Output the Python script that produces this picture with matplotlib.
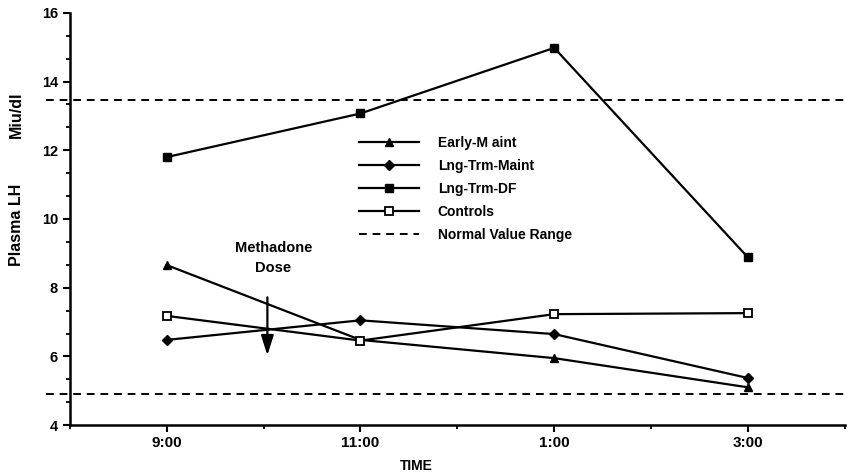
import matplotlib.pyplot as plt
import numpy as np
from matplotlib.ticker import MultipleLocator

# Plasma LH by time of day for each group
times = ["9:00", "11:00", "1:00", "3:00"]
early_maint = [8.66, 6.48, 5.95, 5.1]
lng_trm_maint = [6.48, 7.05, 6.65, 5.37]
lng_trm_df = [11.8, 13.07, 14.98, 8.88]
controls = [7.18, 6.46, 7.23, 7.26]
normal_range = [13.45, 4.92]
dose_time = 0.52

plt.rcParams['font.family'] = ['Liberation Sans', 'DejaVu Sans']

fig = plt.figure(figsize=(8.5, 4.75), dpi=100)
ax = fig.add_axes([0.082, 0.105, 0.912, 0.868])
x = np.arange(len(times))

ax.plot(x, early_maint, color="black", lw=1.6, marker="^", ms=6, label="Early-M aint")
ax.plot(x, lng_trm_maint, color="black", lw=1.6, marker="D", ms=5, label="Lng-Trm-Maint")
ax.plot(x, lng_trm_df, color="black", lw=1.6, marker="s", ms=6, label="Lng-Trm-DF")
ax.plot(x, controls, color="black", lw=1.6, marker="s", ms=6, mfc="white", mew=1.3, label="Controls")
for i, yv in enumerate(normal_range):
    ax.plot([-0.62, 3.5], [yv, yv], color="black", lw=1.4, ls=(0, (4, 3)),
            clip_on=False, label="Normal Value Range" if i == 0 else None)

# dose marker
ax.annotate("", xy=(dose_time, 5.95), xytext=(dose_time, 7.8),
            arrowprops=dict(arrowstyle="-|>,head_width=0.38,head_length=1.2", color="black", lw=1.6))
ax.text(dose_time + 0.03, 8.87, "Methadone\nDose", ha="center", va="center",
        fontsize=10.5, fontweight="bold", linespacing=1.5)

ax.set_xlim(-0.5, 3.5)
ax.set_ylim(4, 16)
ax.set_xticks(x)
ax.set_xticklabels(times)
ax.xaxis.set_minor_locator(MultipleLocator(0.5))
ax.yaxis.set_major_locator(MultipleLocator(2))
ax.yaxis.set_minor_locator(MultipleLocator(2 / 3))
ax.tick_params(axis="both", which="major", direction="out", length=5, width=1.5,
               labelsize=10.5)
ax.tick_params(axis="x", which="major", labelsize=11, pad=3)
ax.tick_params(axis="both", which="minor", direction="out", length=3, width=1.3)
for lbl in ax.get_xticklabels() + ax.get_yticklabels():
    lbl.set_fontweight("bold")

for side in ["top", "right"]:
    ax.spines[side].set_visible(False)
for side in ["left", "bottom"]:
    ax.spines[side].set_linewidth(1.8)

ax.text(1.29, -0.1, "TIME", transform=ax.get_xaxis_transform(), ha="center",
        va="center", fontsize=10, fontweight="bold")
fig.text(0.019, 0.526, "Plasma LH", rotation=90, ha="center", va="center", fontsize=11.5,
         fontweight="bold")
fig.text(0.019, 0.758, "Miu/dl", rotation=90, ha="center", va="center", fontsize=11.5,
         fontweight="bold")

ax.legend(loc="upper left", bbox_to_anchor=(0.357, 0.732), frameon=False, handlelength=4.3,
          handletextpad=1.37, labelspacing=0.65, prop=dict(size=10, weight="bold"))

fig.savefig("out.png", dpi=100)
